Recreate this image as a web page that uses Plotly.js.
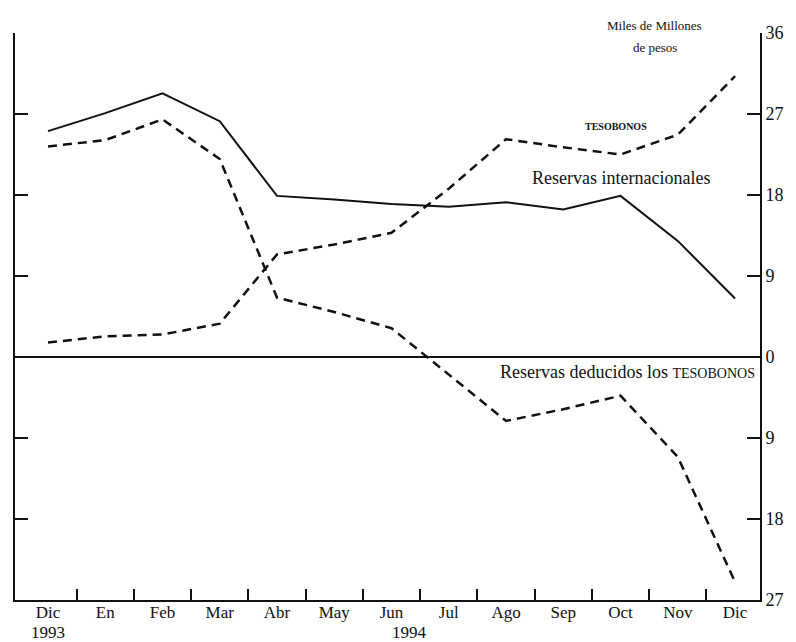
<!DOCTYPE html>
<html>
<head>
<meta charset="utf-8">
<script src="https://cdn.plot.ly/plotly-3.0.1.min.js"></script>
<style>html,body{margin:0;padding:0;background:#fff;}#chart{width:796px;height:642px;}</style>
</head>
<body>
<div id="chart"></div>
<script>
// Categories (months, Dic 1993 .. Dic 1994)
const months = ["Dic","En","Feb","Mar","Abr","May","Jun","Jul","Ago","Sep","Oct","Nov","Dic"];
// Series values (miles de millones de pesos)
const reservas    = [25.1, 27.1, 29.3, 26.2, 17.9, 17.5, 17.0, 16.7, 17.2, 16.4, 17.9, 12.9, 6.5];
const tesobonos   = [1.6, 2.3, 2.5, 3.7, 11.4, 12.5, 13.8, 18.7, 24.2, 23.3, 22.5, 24.7, 31.2];
const deducidos   = [23.4, 24.1, 26.4, 22.0, 6.6, 5.0, 3.2, -1.9, -7.1, -5.8, -4.3, -11.1, -25.0];
// Y tick values and labels (absolute values shown)
const yTickVals   = [36, 27, 18, 9, 0, -9, -18, -27];
const yTickText   = ["36", "27", "18", "9", "0", "9", "18", "27"];
const yearLabels  = ["1993", "1994"];

const idx = months.map((m, i) => i);
const betweenTicks = months.slice(0, -1).map((m, i) => i + 0.5);

const serif = "Liberation Serif, Times New Roman, serif";

const traces = [
  {x: idx, y: reservas, mode: "lines", line: {color: "#111", width: 2}, name: "Reservas internacionales", xaxis: "x", yaxis: "y"},
  {x: idx, y: tesobonos, mode: "lines", line: {color: "#111", width: 2.5, dash: "9px,6px"}, name: "TESOBONOS", xaxis: "x", yaxis: "y"},
  {x: idx, y: deducidos, mode: "lines", line: {color: "#111", width: 2.5, dash: "9px,6px"}, name: "Reservas deducidos los TESOBONOS", xaxis: "x", yaxis: "y"}
];

const layout = {
  width: 796, height: 642,
  margin: {l: 15, r: 36, t: 33, b: 42, pad: 0},
  paper_bgcolor: "#fff", plot_bgcolor: "#fff",
  showlegend: false,
  font: {family: serif, color: "#111", size: 18},
  xaxis: {
    range: [-0.576, 12.436],
    tickvals: betweenTicks, ticktext: betweenTicks.map(() => ""),
    ticks: "inside", ticklen: 11, tickwidth: 2, tickcolor: "#111",
    showline: true, linecolor: "#111", linewidth: 2,
    showgrid: false, zeroline: false, showticklabels: false, fixedrange: true
  },
  xaxis2: {
    overlaying: "x", side: "bottom", anchor: "y",
    range: [-0.576, 12.436],
    tickvals: idx, ticktext: months,
    ticks: "", showline: false, showgrid: false, zeroline: false,
    tickfont: {family: serif, size: 17, color: "#111"}
  },
  yaxis: {
    range: [-27, 36], side: "right",
    tickvals: yTickVals, ticktext: yTickText,
    ticks: "inside", ticklen: 13, tickwidth: 2, tickcolor: "#111",
    showline: true, linecolor: "#111", linewidth: 2, mirror: "ticks",
    showgrid: false, zeroline: true, zerolinecolor: "#111", zerolinewidth: 2,
    tickfont: {family: serif, size: 18, color: "#111"}, fixedrange: true
  },
  annotations: [
    {text: "Miles de Millones", x: 10.6, y: 1.014, xref: "x", yref: "paper", yanchor: "middle", showarrow: false, font: {family: serif, size: 13}},
    {text: "de pesos", x: 10.6, y: 0.975, xref: "x", yref: "paper", yanchor: "middle", showarrow: false, font: {family: serif, size: 13}},
    {text: "<b>TESOBONOS</b>", x: 9.92, y: 25.6, xref: "x", yref: "y", yanchor: "middle", showarrow: false, font: {family: serif, size: 10}},
    {text: "Reservas internacionales", x: 10.01, y: 19.9, xref: "x", yref: "y", yanchor: "middle", showarrow: false, font: {family: serif, size: 18}},
    {text: "Reservas deducidos los <span style=\"font-size:14px\">TESOBONOS</span>", x: 10.13, y: -1.7, xref: "x", yref: "y", yanchor: "middle", showarrow: false, font: {family: serif, size: 18}},
    {text: yearLabels[0], x: 0, y: -0.057, xref: "x", yref: "paper", yanchor: "middle", showarrow: false, font: {family: serif, size: 17}},
    {text: yearLabels[1], x: 6.32, y: -0.057, xref: "x", yref: "paper", yanchor: "middle", showarrow: false, font: {family: serif, size: 17}}
  ]
};

// dummy trace to activate xaxis2 labels
traces.push({x: idx, y: idx.map(() => null), xaxis: "x2", yaxis: "y", mode: "lines", hoverinfo: "skip", showlegend: false});

Plotly.newPlot("chart", traces, layout, {staticPlot: true, displayModeBar: false});
</script>
</body>
</html>
